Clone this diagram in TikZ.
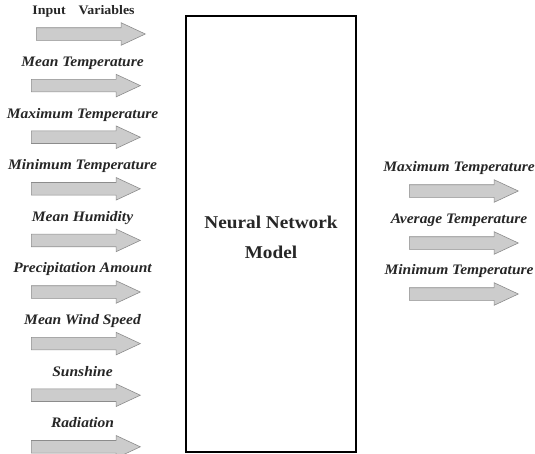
\documentclass[tikz,border=0pt]{standalone}
\usepackage{fontspec}
\setmainfont{Liberation Serif}[FakeStretch=1.07]
\usetikzlibrary{shapes.arrows,positioning}

\begin{document}
\begin{tikzpicture}[x=1pt,y=-1pt,
  arr/.style={single arrow,draw=black!45,fill=black!20,line width=0.6pt,inner sep=0pt,
    text height=12pt,text depth=0pt,minimum height=109pt,anchor=tail,
    single arrow head extend=5pt,single arrow tip angle=50},
  lab/.style={font=\fontsize{14.5}{16}\selectfont\bfseries\itshape,text=black!85,
    inner sep=0pt,text height=10pt,text depth=3pt}]
\useasboundingbox (0,0) rectangle (535,453);
% model
\node[draw,line width=1.5pt,minimum width=170pt,minimum height=436pt,inner sep=0pt] (nn) at (271,234) {};
\node[align=center,font=\fontsize{18}{30}\selectfont\bfseries,text=black!85] (nnlab) at (271,237) {Neural Network\\Model};
% inputs
\node[arr] (in0) at (36,34) {};
\node[lab,font=\fontsize{13}{15}\selectfont\bfseries,above=16pt of in0.center,xshift=-0.5pt] (lab0) {Input\hspace{1em}Variables};
\foreach \t [count=\i] in {Mean Temperature,Maximum Temperature,Minimum Temperature,Mean Humidity,
    Precipitation Amount,Mean Wind Speed,Sunshine,Radiation}{
  \node[arr] (in\i) at (31,{34+51.6*\i}) {};
  \node[lab,above=16pt of in\i.center,xshift=3.5pt] (lab\i) {\t};
}
% outputs
\foreach \t/\y [count=\i] in {Maximum Temperature/191,Average Temperature/243,Minimum Temperature/294}{
  \node[arr] (out\i) at (409,\y) {};
  \node[lab,above=16pt of out\i.center,xshift=2pt] (olab\i) {\t};
}
\end{tikzpicture}
\end{document}
